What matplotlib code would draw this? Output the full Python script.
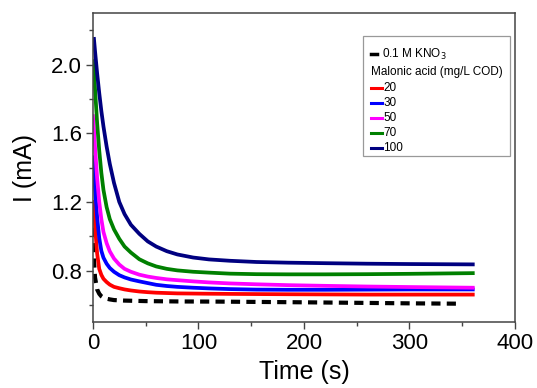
import matplotlib
matplotlib.use("Agg")
import matplotlib.pyplot as plt
from matplotlib.ticker import MultipleLocator
from matplotlib.patches import Rectangle

plt.rcParams['font.family'] = ['Liberation Sans', 'DejaVu Sans']

# time (s) and current (mA)
t = [0, 1, 2, 4, 6, 8, 10, 13, 16, 20, 25, 30, 36, 44, 52, 60, 70, 80, 95, 110,
     130, 155, 185, 220, 260, 300, 330, 360]
i_20 = [1.20, 1.14, 1.06, 0.90, 0.81, 0.775, 0.752, 0.733, 0.718, 0.705, 0.697, 0.690,
        0.684, 0.678, 0.674, 0.671, 0.669, 0.667, 0.666, 0.665, 0.664, 0.663, 0.662,
        0.661, 0.660, 0.660, 0.660, 0.660]
i_30 = [1.46, 1.37, 1.28, 1.11, 0.99, 0.915, 0.875, 0.840, 0.815, 0.793, 0.773, 0.760,
        0.748, 0.737, 0.727, 0.717, 0.710, 0.705, 0.700, 0.696, 0.692, 0.689, 0.688,
        0.688, 0.689, 0.690, 0.690, 0.690]
i_50 = [1.70, 1.62, 1.52, 1.34, 1.20, 1.10, 1.025, 0.96, 0.912, 0.870, 0.835, 0.810,
        0.793, 0.776, 0.765, 0.757, 0.749, 0.744, 0.737, 0.731, 0.725, 0.720, 0.715,
        0.711, 0.707, 0.704, 0.702, 0.700]
i_70 = [2.02, 1.97, 1.86, 1.66, 1.50, 1.37, 1.27, 1.17, 1.10, 1.04, 0.985, 0.940,
        0.905, 0.866, 0.842, 0.824, 0.810, 0.801, 0.793, 0.788, 0.782, 0.779, 0.778,
        0.778, 0.779, 0.781, 0.783, 0.785]
i_100 = [None, 2.15, 2.08, 1.95, 1.835, 1.73, 1.64, 1.523, 1.422, 1.311, 1.20, 1.129,
         1.067, 1.014, 0.970, 0.940, 0.913, 0.894, 0.876, 0.865, 0.857, 0.850, 0.846,
         0.843, 0.840, 0.838, 0.837, 0.836]

t_kno3 = [0, 1, 2, 4, 6, 8, 10, 13, 16, 20, 30, 50, 80, 120, 160, 200, 250, 300, 346]
i_kno3 = [1.05, 0.86, 0.76, 0.69, 0.665, 0.65, 0.642, 0.636, 0.632, 0.628, 0.625, 0.622,
          0.620, 0.619, 0.617, 0.615, 0.612, 0.609, 0.607]

labels = ['20', '30', '50', '70', '100']
colors = ['#ff0000', '#0000ff', '#ff00ff', '#008000', '#000080']
series = [i_20, i_30, i_50, i_70, i_100]

fig = plt.figure(figsize=(5.37, 3.88), dpi=100)
ax = fig.add_axes([0.173, 0.170, 0.786, 0.796])

ax.plot(t_kno3, i_kno3, color='black', lw=3, dashes=(2.2, 1.5), dash_capstyle='butt')
for vals, c in zip(series, colors):
    tt = [a for a, b in zip(t, vals) if b is not None]
    vv = [b for b in vals if b is not None]
    ax.plot(tt, vv, color=c, lw=2.7, solid_joinstyle='round')

ax.set_xlim(0, 400)
ax.set_ylim(0.5, 2.3)
ax.xaxis.set_major_locator(MultipleLocator(100))
ax.xaxis.set_minor_locator(MultipleLocator(50))
ax.yaxis.set_major_locator(MultipleLocator(0.4))
ax.yaxis.set_minor_locator(MultipleLocator(0.2))
ax.tick_params(which='both', direction='out', top=False, right=False,
               color='#444444', labelsize=16, width=1.0)
ax.tick_params(which='major', length=5, pad=3)
ax.tick_params(which='minor', length=3)
for s in ax.spines.values():
    s.set_color('#444444')
    s.set_linewidth(1.1)

ax.set_xlabel('Time (s)', fontsize=18, labelpad=4)
ax.set_ylabel('I (mA)', fontsize=18, labelpad=10)

# legend drawn by hand in axes coordinates
tr = ax.transAxes
ax.add_patch(Rectangle((0.64, 0.537), 0.348, 0.389, transform=tr, fill=False,
                       edgecolor='#999999', lw=0.9))
y0 = 0.867
step = 0.048
ax.plot([0.659, 0.672], [y0, y0], transform=tr, color='black', lw=2.5)
ax.text(0.686, y0, '0.1 M KNO$_3$', transform=tr, fontsize=8.5, va='center')
ax.text(0.659, y0 - 0.058, 'Malonic acid (mg/L COD)', transform=tr, fontsize=8.5, va='center')
for k, (lab, c) in enumerate(zip(labels, colors)):
    yy = y0 - 0.11 - k * step
    ax.plot([0.659, 0.685], [yy, yy], transform=tr, color=c, lw=2.2)
    ax.text(0.688, yy, lab, transform=tr, fontsize=8.5, va='center')

fig.savefig('out.png', dpi=100)
